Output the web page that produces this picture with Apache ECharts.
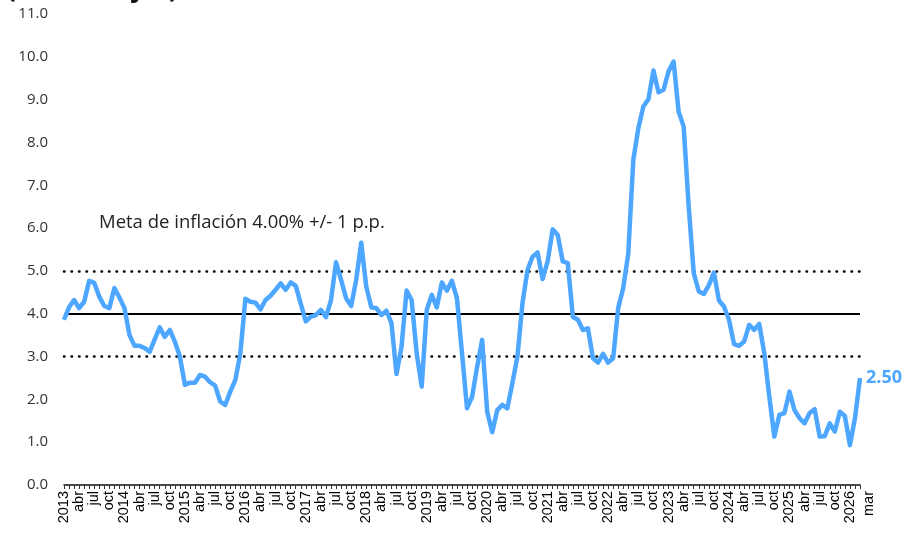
<!DOCTYPE html>
<html>
<head>
<meta charset="utf-8">
<script src="https://cdn.jsdelivr.net/npm/echarts@6/dist/echarts.min.js"></script>
<style>
  html, body { margin: 0; padding: 0; background: #fff; }
  #main { width: 910px; height: 533px; }
</style>
</head>
<body>
<div id="main"></div>
<script>
var years = [2013, 2014, 2015, 2016, 2017, 2018, 2019, 2020, 2021, 2022, 2023, 2024, 2025, 2026]
var monthNames = ['ene', 'feb', 'mar', 'abr', 'may', 'jun', 'jul', 'ago', 'sep', 'oct', 'nov', 'dic']

// ritmo inflacionario mensual, ene-2013 a mar-2026
var inflacion = [
  3.86, 4.15, 4.32, 4.13, 4.28, 4.77, 4.72, 4.40, 4.18, 4.13, 4.60, 4.38, // 2013
  4.13, 3.50, 3.25, 3.25, 3.20, 3.11, 3.40, 3.68, 3.46, 3.62, 3.35, 3.00, // 2014
  2.34, 2.39, 2.39, 2.57, 2.53, 2.40, 2.32, 1.95, 1.87, 2.18, 2.45, 3.07, // 2015
  4.35, 4.28, 4.26, 4.10, 4.32, 4.42, 4.56, 4.71, 4.56, 4.73, 4.65, 4.23, // 2016
  3.82, 3.93, 3.97, 4.09, 3.92, 4.32, 5.20, 4.79, 4.36, 4.18, 4.79, 5.66, // 2017
  4.63, 4.15, 4.13, 3.97, 4.07, 3.78, 2.59, 3.23, 4.54, 4.32, 3.08, 2.30, // 2018
  4.09, 4.44, 4.15, 4.73, 4.54, 4.77, 4.36, 3.08, 1.79, 2.06, 2.76, 3.39, // 2019
  1.71, 1.23, 1.75, 1.87, 1.79, 2.38, 3.00, 4.24, 5.02, 5.33, 5.43, 4.81, // 2020
  5.22, 5.97, 5.84, 5.22, 5.18, 3.93, 3.86, 3.62, 3.66, 2.96, 2.86, 3.06, // 2021
  2.86, 2.96, 4.13, 4.60, 5.40, 7.59, 8.33, 8.84, 9.01, 9.68, 9.17, 9.23, // 2022
  9.66, 9.89, 8.72, 8.37, 6.50, 4.95, 4.52, 4.46, 4.67, 4.96, 4.31, 4.17, // 2023
  3.86, 3.29, 3.25, 3.35, 3.74, 3.62, 3.76, 3.08, 2.06, 1.13, 1.64, 1.68, // 2024
  2.18, 1.75, 1.56, 1.44, 1.68, 1.77, 1.13, 1.14, 1.44, 1.25, 1.71, 1.61, // 2025
  0.93, 1.56, 2.50                                                        // 2026
]

var metaCentral = 4
var metaSuperior = 5
var metaInferior = 3
var metaTexto = 'Meta de inflación 4.00% +/- 1 p.p.'
var tituloTexto = '(Porcentajes)'

// categorias ano-mes
var categories = []
for (var y = 0; y < years.length; y++) {
  for (var m = 0; m < 12; m++) {
    if (categories.length < inflacion.length) {
      categories.push(years[y] + '-' + monthNames[m])
    }
  }
}
var last = categories.length - 1

var chart = echarts.init(document.getElementById('main'))

var option = {
  animation: false,
  title: {
    text: tituloTexto,
    left: 2,
    top: -28,
    textStyle: {
      fontFamily: 'Open Sans',
      fontWeight: 'bold',
      fontSize: 26,
      color: '#111'
    }
  },
  grid: {
    left: 64,
    right: 50,
    top: 14,
    bottom: 48
  },
  xAxis: {
    type: 'category',
    boundaryGap: false,
    data: categories,
    axisLine: {
      lineStyle: { color: '#111', width: 1.5 }
    },
    axisTick: {
      interval: 0,
      length: 4,
      lineStyle: { color: '#333', width: 1 }
    },
    axisLabel: {
      rotate: 90,
      margin: 6,
      showMaxLabel: true,
      fontFamily: 'Liberation Sans',
      fontSize: 14.5,
      color: '#000',
      interval: function (index) {
        return index % 3 === 0 || index === last
      },
      formatter: function (value, index) {
        var parts = value.split('-')
        if (index === last) return '{fin|' + parts[1] + '}'
        if (parts[1] === 'ene') return parts[0]
        return parts[1]
      },
      rich: {
        fin: {
          fontFamily: 'Liberation Sans',
          fontSize: 14.5,
          color: '#000',
          padding: [18, 0, 0, 0]
        }
      }
    }
  },
  yAxis: {
    type: 'value',
    min: 0,
    max: 11,
    interval: 1,
    axisLine: { show: false },
    axisTick: { show: false },
    splitLine: { show: false },
    axisLabel: {
      margin: 16,
      fontFamily: 'Open Sans',
      fontSize: 15,
      color: '#333',
      formatter: function (v) { return v.toFixed(1) }
    }
  },
  graphic: [{
    type: 'text',
    left: 99,
    top: 213,
    style: {
      text: metaTexto,
      fontFamily: 'Open Sans',
      fontSize: 18.5,
      fill: '#222'
    }
  }],
  series: [{
    type: 'line',
    data: inflacion,
    symbol: 'none',
    lineStyle: { color: '#4da6ff', width: 4.5, join: 'round' },
    endLabel: {
      show: true,
      distance: 6,
      formatter: function (p) { return p.value.toFixed(2) },
      color: '#4da6ff',
      fontFamily: 'Open Sans',
      fontWeight: 'bold',
      fontSize: 18
    },
    markLine: {
      silent: true,
      symbol: 'none',
      z: 1,
      label: { show: false },
      data: [
        { yAxis: metaCentral, lineStyle: { color: '#000', width: 2, type: 'solid' } },
        { yAxis: metaSuperior, lineStyle: { color: '#000', width: 2.5, type: [0.5, 7], cap: 'round' } },
        { yAxis: metaInferior, lineStyle: { color: '#000', width: 2.5, type: [0.5, 7], cap: 'round' } }
      ]
    }
  }]
}

chart.setOption(option)
</script>
</body>
</html>
